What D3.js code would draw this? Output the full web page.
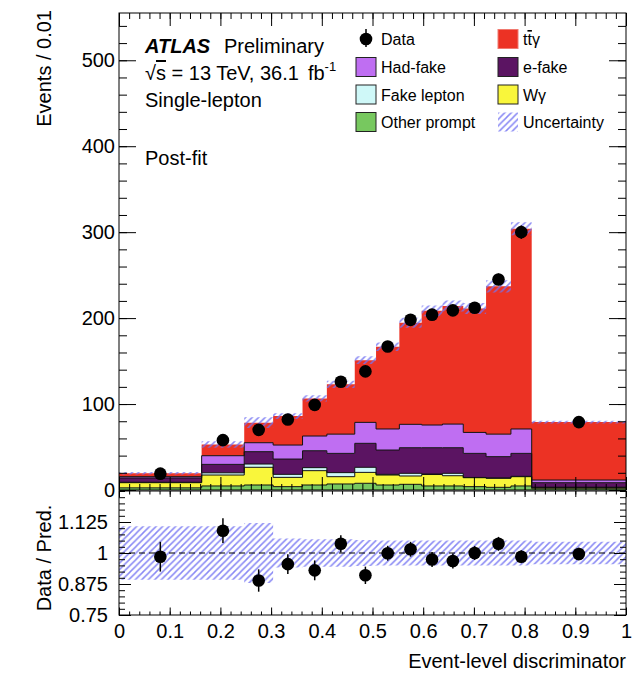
<!DOCTYPE html>
<html>
<head>
<meta charset="utf-8">
<script src="https://cdn.jsdelivr.net/npm/d3@7"></script>
<style>
  body { margin: 0; background: #fff; }
  svg text { font-family: "Liberation Sans", Arial, sans-serif; fill: #000; }
</style>
</head>
<body>
<div id="chart"></div>
<script>
// ---- data (events / 0.01) ----
const binEdges = [0, 0.163, 0.247, 0.304, 0.362, 0.41, 0.465, 0.507, 0.553, 0.597, 0.638, 0.679, 0.724, 0.773, 0.814, 1.0];
const otherPrompt = [2.5, 4.7, 5.8, 3.9, 5.8, 7.0, 7.8, 5.8, 6.6, 4.7, 4.7, 3.9, 3.1, 4.7, 1.5];
const wGamma      = [6.0, 12.7, 20.6, 10.8, 16.7, 8.5, 12.7, 11.6, 9.7, 13.3, 11.9, 10.4, 10.5, 10.8, 1.5];
const fakeLepton  = [0.5, 2.6, 3.8, 3.5, 3.5, 4.7, 5.9, 0.8, 3.1, 0.6, 2.8, 0.3, 0.4, 0.4, 0.2];
const eFake       = [5.0, 9.8, 14.4, 17.8, 19.7, 22.4, 27.9, 28.3, 29.8, 30.6, 29.8, 28.0, 24.8, 26.7, 5.3];
const hadFake     = [1.5, 10.1, 10.4, 16.3, 17.1, 22.4, 24.4, 24.5, 27.2, 26.4, 27.5, 24.4, 26.2, 28.4, 3.1];
const ttGamma     = [4.0, 13.1, 23.3, 33.7, 43.8, 57.9, 72.3, 95.7, 118.2, 132.9, 137.3, 144.2, 172.0, 233.0, 67.4];
const dataValues  = [19, 58, 70, 82, 99, 126, 138, 167, 198, 204, 209, 212, 245, 300, 79];
const ratioValues = [0.985, 1.09, 0.889, 0.955, 0.93, 1.037, 0.91, 0.999, 1.015, 0.974, 0.968, 1.0, 1.037, 0.985, 0.996];
const ratioErrors = [0.06, 0.05, 0.045, 0.04, 0.04, 0.035, 0.035, 0.03, 0.03, 0.03, 0.03, 0.028, 0.028, 0.026, 0.025];
const relUnc      = [0.108, 0.108, 0.121, 0.058, 0.055, 0.055, 0.052, 0.05, 0.05, 0.05, 0.05, 0.05, 0.05, 0.05, 0.045];
const mainUnc     = [0.07, 0.07, 0.08, 0.04, 0.035, 0.035, 0.03, 0.03, 0.03, 0.03, 0.03, 0.03, 0.03, 0.025, 0.02];

const xTicks = [0, 0.1, 0.2, 0.3, 0.4, 0.5, 0.6, 0.7, 0.8, 0.9, 1];
const xTickLabels = ["0", "0.1", "0.2", "0.3", "0.4", "0.5", "0.6", "0.7", "0.8", "0.9", "1"];
const yTicks = [0, 100, 200, 300, 400, 500];
const ratioTicks = [0.75, 0.875, 1, 1.125];
const ratioTickLabels = ["0.75", "0.875", "1", "1.125"];

// ---- samples (bottom to top) ----
const samples = [
  { key: "otherPrompt", values: otherPrompt, color: "#77c85f", label: "Other prompt" },
  { key: "wGamma", values: wGamma, color: "#f9f63b", label: "W\u03b3" },
  { key: "fakeLepton", values: fakeLepton, color: "#cff8f8", label: "Fake lepton" },
  { key: "eFake", values: eFake, color: "#5b1462", label: "e-fake" },
  { key: "hadFake", values: hadFake, color: "#bf6ef2", label: "Had-fake" },
  { key: "ttGamma", values: ttGamma, color: "#ec3224", label: "tt\u03b3" }
];

const W = 636, H = 675;
const L = 119, R = 626, mainTop = 13, mainBottom = 490, ratioTop = 491, ratioBottom = 615;
const hatchColor = "#7373f2";

const svg = d3.select("#chart").append("svg").attr("width", W).attr("height", H);
const defs = svg.append("defs");

const hatch = defs.append("pattern")
  .attr("id", "hatch").attr("patternUnits", "userSpaceOnUse")
  .attr("width", 6.5).attr("height", 6.5);
hatch.append("path")
  .attr("d", "M0,6.5L6.5,0M-1.5,1.5L1.5,-1.5M5,8L8,5")
  .attr("stroke", hatchColor).attr("stroke-width", 1.5).attr("stroke-opacity", 0.85);

defs.append("clipPath").attr("id", "clipMain")
  .append("rect").attr("x", L).attr("y", mainTop).attr("width", R - L).attr("height", mainBottom - mainTop);
defs.append("clipPath").attr("id", "clipRatio")
  .append("rect").attr("x", L).attr("y", ratioTop).attr("width", R - L).attr("height", ratioBottom - ratioTop);

// ---- scales ----
const x = d3.scaleLinear().domain([0, 1]).range([L, R]);
const y = d3.scaleLinear().domain([0, 555]).range([mainBottom, mainTop]);
const yr = d3.scaleLinear().domain([0.75, 1.25]).range([ratioBottom, ratioTop]);

const nBins = binEdges.length - 1;
const centers = d3.range(nBins).map(i => (binEdges[i] + binEdges[i + 1]) / 2);

// ---- stacked histogram ----
const rows = d3.range(nBins).map(i => Object.fromEntries(samples.map(s => [s.key, s.values[i]])));
const stacked = d3.stack().keys(samples.map(s => s.key))(rows);

// step points, last bin repeated at the upper edge
const stepPoints = (lo, hi) => {
  const pts = d3.range(nBins).map(i => ({ x: binEdges[i], y0: lo[i], y1: hi[i] }));
  pts.push({ x: binEdges[nBins], y0: lo[nBins - 1], y1: hi[nBins - 1] });
  return pts;
};

const mainG = svg.append("g").attr("clip-path", "url(#clipMain)");
const areaMain = d3.area().curve(d3.curveStepAfter).x(d => x(d.x)).y0(d => y(d.y0)).y1(d => y(d.y1));
const lineMain = d3.line().curve(d3.curveStepAfter).x(d => x(d.x)).y(d => y(d.y1));

stacked.forEach((layer, li) => {
  const pts = stepPoints(layer.map(d => d[0]), layer.map(d => d[1]));
  mainG.append("path").attr("d", areaMain(pts)).attr("fill", samples[li].color);
});
stacked.forEach((layer, li) => {
  if (samples[li].key === "ttGamma") return;
  const pts = stepPoints(layer.map(d => d[0]), layer.map(d => d[1]));
  mainG.append("path").attr("d", lineMain(pts)).attr("fill", "none")
    .attr("stroke", "#111").attr("stroke-width", 1);
});

// uncertainty band on the total prediction
const totals = stacked[stacked.length - 1].map(d => d[1]);
mainG.append("path")
  .attr("d", areaMain(stepPoints(totals.map((t, i) => t * (1 - mainUnc[i])), totals.map((t, i) => t * (1 + mainUnc[i])))))
  .attr("fill", "url(#hatch)");

// data points
const dataG = svg.append("g");
dataG.selectAll("line").data(dataValues).join("line")
  .attr("x1", (d, i) => x(centers[i])).attr("x2", (d, i) => x(centers[i]))
  .attr("y1", (d, i) => y(d * (1 + ratioErrors[i]))).attr("y2", (d, i) => y(d * (1 - ratioErrors[i])))
  .attr("stroke", "#000").attr("stroke-width", 1.5);
dataG.selectAll("circle").data(dataValues).join("circle")
  .attr("cx", (d, i) => x(centers[i])).attr("cy", d => y(d)).attr("r", 6.3).attr("fill", "#000");

// ---- ratio panel ----
const ratioG = svg.append("g").attr("clip-path", "url(#clipRatio)");
const areaRatio = d3.area().curve(d3.curveStepAfter).x(d => x(d.x)).y0(d => yr(d.y0)).y1(d => yr(d.y1));
ratioG.append("path")
  .attr("d", areaRatio(stepPoints(relUnc.map(u => 1 - u), relUnc.map(u => 1 + u))))
  .attr("fill", "url(#hatch)");
ratioG.append("line")
  .attr("x1", L).attr("x2", R).attr("y1", yr(1)).attr("y2", yr(1))
  .attr("stroke", "#000").attr("stroke-width", 1.2).attr("stroke-dasharray", "6,4");
ratioG.selectAll("line.err").data(ratioValues).join("line").attr("class", "err")
  .attr("x1", (d, i) => x(centers[i])).attr("x2", (d, i) => x(centers[i]))
  .attr("y1", (d, i) => yr(d + ratioErrors[i])).attr("y2", (d, i) => yr(d - ratioErrors[i]))
  .attr("stroke", "#000").attr("stroke-width", 1.5);
ratioG.selectAll("circle").data(ratioValues).join("circle")
  .attr("cx", (d, i) => x(centers[i])).attr("cy", d => yr(d)).attr("r", 6.3).attr("fill", "#000");

// ---- axes (inward ticks, ROOT style) ----
const addAxis = (gen, tr, vals, size, fmt) =>
  svg.append("g").attr("transform", tr)
    .call(gen.tickValues(vals).tickSize(size).tickSizeOuter(0).tickPadding(fmt ? 6 : 0).tickFormat(fmt || (() => "")))
    .call(g => g.select(".domain").remove())
    .attr("font-size", 20).attr("font-family", "Liberation Sans, Arial, sans-serif");

const xMinor = d3.range(0, 51).map(i => i / 50);
const yMinor = d3.range(0, 28).map(i => i * 20);
const rMinor = d3.range(0, 21).map(i => 0.75 + i * 0.025);

// main panel
addAxis(d3.axisLeft(y), `translate(${L},0)`, yTicks, -17, d => String(d)).selectAll("text").attr("x", -4);
addAxis(d3.axisLeft(y), `translate(${L},0)`, yMinor, -8);
addAxis(d3.axisRight(y), `translate(${R},0)`, yTicks, -17);
addAxis(d3.axisRight(y), `translate(${R},0)`, yMinor, -8);
addAxis(d3.axisTop(x), `translate(0,${mainTop})`, xTicks, -13);
addAxis(d3.axisTop(x), `translate(0,${mainTop})`, xMinor, -6);
addAxis(d3.axisBottom(x), `translate(0,${mainBottom})`, xTicks, -13);
addAxis(d3.axisBottom(x), `translate(0,${mainBottom})`, xMinor, -6);

// ratio panel
addAxis(d3.axisLeft(yr), `translate(${L},0)`, ratioTicks, -12, (d, i) => ratioTickLabels[i]).selectAll("text").attr("x", -11);
addAxis(d3.axisLeft(yr), `translate(${L},0)`, rMinor, -6);
addAxis(d3.axisRight(yr), `translate(${R},0)`, ratioTicks, -12);
addAxis(d3.axisRight(yr), `translate(${R},0)`, rMinor, -6);
addAxis(d3.axisTop(x), `translate(0,${ratioTop})`, xTicks, -6);
addAxis(d3.axisTop(x), `translate(0,${ratioTop})`, xMinor, -3.5);
addAxis(d3.axisBottom(x), `translate(0,${ratioBottom})`, xTicks, -7.5, (d, i) => xTickLabels[i]).selectAll("text").attr("y", 9);
addAxis(d3.axisBottom(x), `translate(0,${ratioBottom})`, xMinor, -3.5);

// frames
svg.append("rect").attr("x", L).attr("y", mainTop).attr("width", R - L).attr("height", mainBottom - mainTop)
  .attr("fill", "none").attr("stroke", "#000").attr("stroke-width", 1);
svg.append("rect").attr("x", L).attr("y", ratioTop).attr("width", R - L).attr("height", ratioBottom - ratioTop)
  .attr("fill", "none").attr("stroke", "#000").attr("stroke-width", 1);

// axis titles
svg.append("text").attr("transform", "translate(51,10) rotate(-90)")
  .attr("text-anchor", "end").attr("font-size", 20).text("Events / 0.01");
svg.append("text").attr("transform", "translate(51,558) rotate(-90)")
  .attr("text-anchor", "middle").attr("font-size", 20).text("Data / Pred.");
svg.append("text").attr("x", R).attr("y", 668)
  .attr("text-anchor", "end").attr("font-size", 20).text("Event-level discriminator");

// ---- labels ----
svg.append("text").attr("x", 145).attr("y", 53).attr("font-size", 20)
  .attr("font-weight", "bold").attr("font-style", "italic").text("ATLAS");
svg.append("text").attr("x", 224).attr("y", 53).attr("font-size", 20).text("Preliminary");
const lumi = svg.append("text").attr("x", 145).attr("y", 80).attr("font-size", 20);
lumi.append("tspan").text("\u221a");
lumi.append("tspan").style("text-decoration", "overline").text("s");
lumi.append("tspan").text(" = 13 TeV, 36.1");
lumi.append("tspan").attr("dx", 9).text("fb");
lumi.append("tspan").attr("dy", -9).attr("font-size", 13).text("-1");
svg.append("text").attr("x", 145).attr("y", 107).attr("font-size", 20).text("Single-lepton");
svg.append("text").attr("x", 145).attr("y", 165).attr("font-size", 20).text("Post-fit");

// ---- legend ----
const byKey = Object.fromEntries(samples.map(s => [s.key, s]));
const legendCols = [
  { x: 356, items: ["data", "hadFake", "fakeLepton", "otherPrompt"] },
  { x: 498, items: ["ttGamma", "eFake", "wGamma", "unc"] }
];
const rowY = [39, 67, 94.5, 122];
const legend = svg.append("g").attr("font-size", 16);
legendCols.forEach(col => {
  col.items.forEach((key, r) => {
    const cy = rowY[r];
    if (key === "data") {
      legend.append("line").attr("x1", col.x + 10).attr("x2", col.x + 10).attr("y1", cy - 10).attr("y2", cy + 8)
        .attr("stroke", "#000").attr("stroke-width", 1.5);
      legend.append("circle").attr("cx", col.x + 10).attr("cy", cy).attr("r", 6.3).attr("fill", "#000");
    } else if (key === "unc") {
      legend.append("rect").attr("x", col.x).attr("y", cy - 9.5).attr("width", 20).attr("height", 19)
        .attr("fill", "url(#hatch)");
    } else {
      const s = byKey[key];
      legend.append("rect").attr("x", col.x).attr("y", cy - 9.5).attr("width", 20).attr("height", 19)
        .attr("fill", s.color).attr("stroke", key === "ttGamma" ? "#f07a70" : "#222").attr("stroke-width", 1);
    }
    const t = legend.append("text").attr("x", col.x + 25).attr("y", cy + 6);
    if (key === "data") t.text("Data");
    else if (key === "unc") t.text("Uncertainty");
    else if (key === "ttGamma") {
      t.append("tspan").text("t");
      t.append("tspan").style("text-decoration", "overline").text("t");
      t.append("tspan").text("\u03b3");
    } else t.text(byKey[key].label);
  });
});
</script>
</body>
</html>
